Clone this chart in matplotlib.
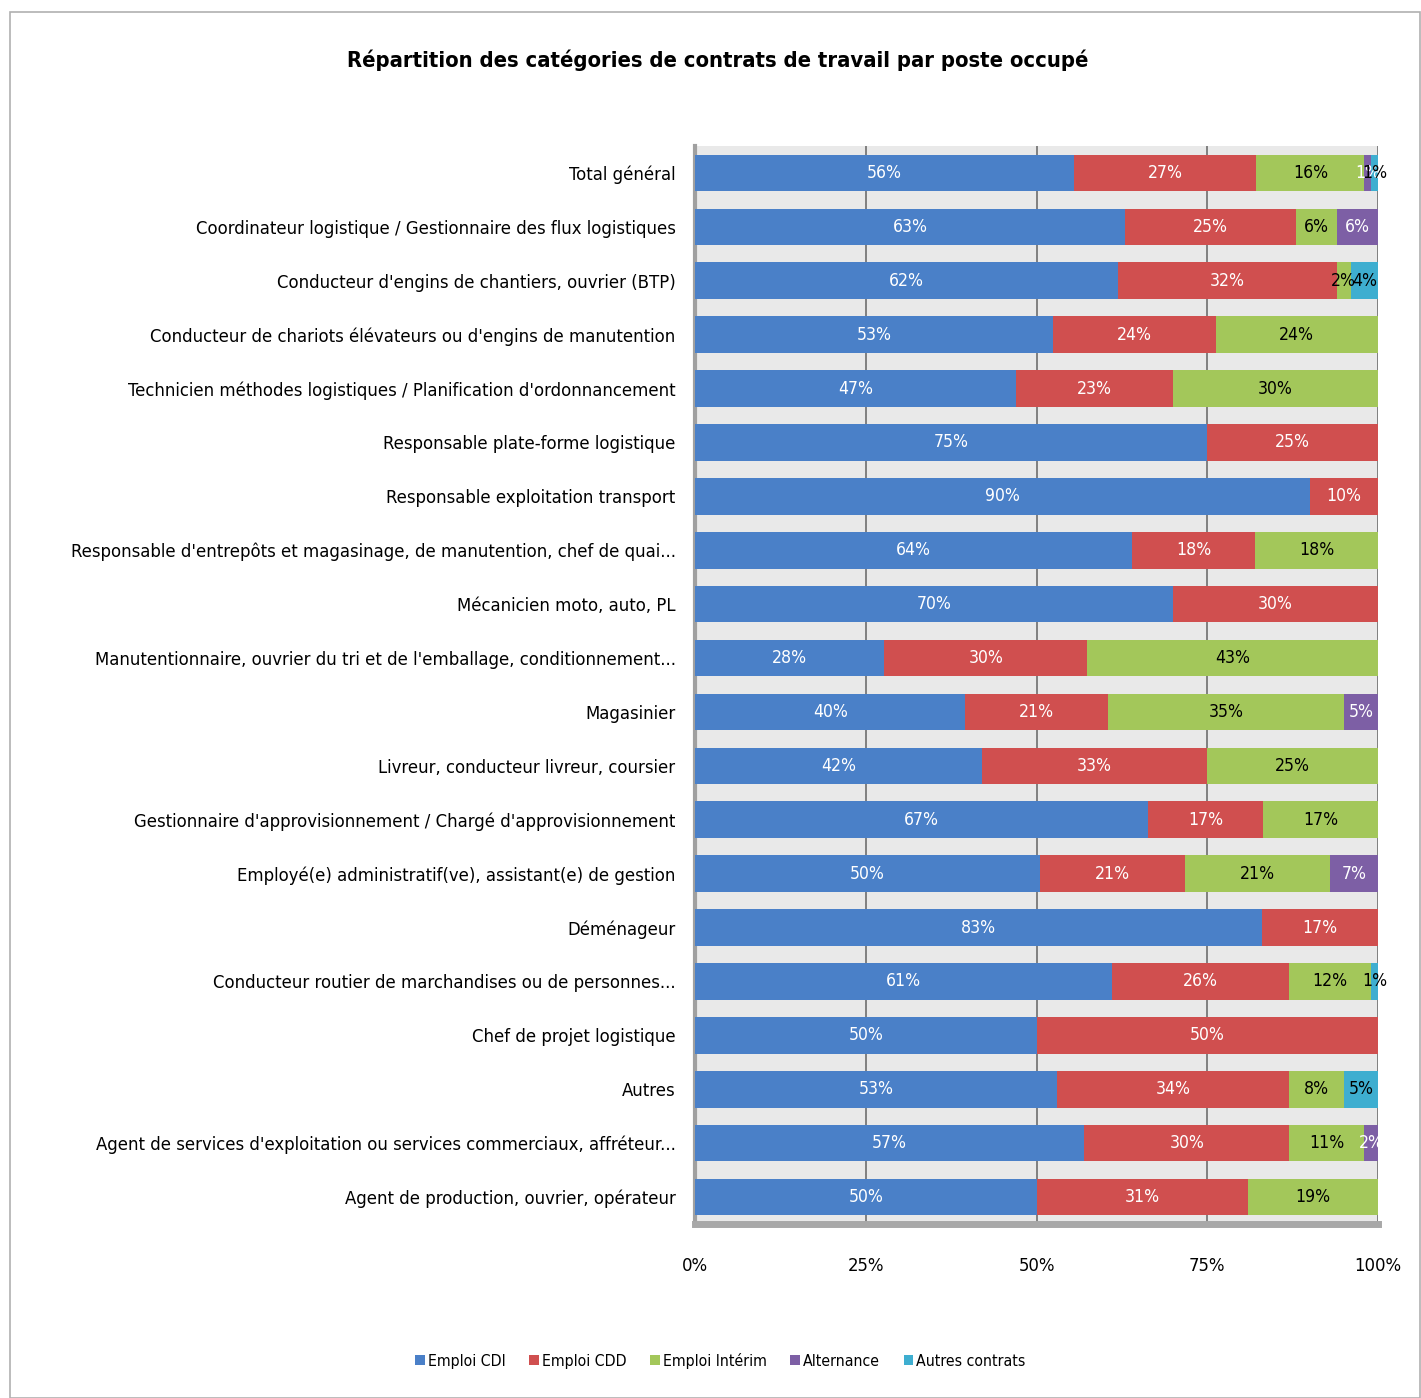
import matplotlib
matplotlib.use("Agg")
import matplotlib.pyplot as plt
from matplotlib.patches import Rectangle
from matplotlib import font_manager as fm
import numpy as np

categories = [
    "Total général",
    "Coordinateur logistique / Gestionnaire des flux logistiques",
    "Conducteur d'engins de chantiers, ouvrier (BTP)",
    "Conducteur de chariots élévateurs ou d'engins de manutention",
    "Technicien méthodes logistiques / Planification d'ordonnancement",
    "Responsable plate-forme logistique",
    "Responsable exploitation transport",
    "Responsable d'entrepôts et magasinage, de manutention, chef de quai...",
    "Mécanicien moto, auto, PL",
    "Manutentionnaire, ouvrier du tri et de l'emballage, conditionnement...",
    "Magasinier",
    "Livreur, conducteur livreur, coursier",
    "Gestionnaire d'approvisionnement / Chargé d'approvisionnement",
    "Employé(e) administratif(ve), assistant(e) de gestion",
    "Déménageur",
    "Conducteur routier de marchandises ou de personnes...",
    "Chef de projet logistique",
    "Autres",
    "Agent de services d'exploitation ou services commerciaux, affréteur...",
    "Agent de production, ouvrier, opérateur",
]

series_names = ["Emploi CDI", "Emploi CDD", "Emploi Intérim", "Alternance", "Autres contrats"]

cdi       = [56, 63, 62, 53, 47, 75, 90, 64, 70, 28, 40, 42, 67, 50, 83, 61, 50, 53, 57, 50]
cdd       = [27, 25, 32, 24, 23, 25, 10, 18, 30, 30, 21, 33, 17, 21, 17, 26, 50, 34, 30, 31]
interim   = [16,  6,  2, 24, 30,  0,  0, 18,  0, 43, 35, 25, 17, 21,  0, 12,  0,  8, 11, 19]
alternance= [ 1,  6,  0,  0,  0,  0,  0,  0,  0,  0,  5,  0,  0,  7,  0,  0,  0,  0,  2,  0]
autres    = [ 1,  0,  4,  0,  0,  0,  0,  0,  0,  0,  0,  0,  0,  0,  0,  1,  0,  5,  0,  0]

x_ticks = [0, 25, 50, 75, 100]
x_tick_labels = ["0%", "25%", "50%", "75%", "100%"]

title = "Répartition des catégories de contrats de travail par poste occupé"

colors = ["#4a80c8", "#d04f4f", "#a3c75a", "#7d5fa5", "#3eaed0"]
label_colors = ["white", "white", "black", "white", "black"]


def pick_font(weight="normal"):
    cands = [("Liberation Sans Narrow", "normal"), ("DejaVu Sans", "condensed"),
             ("Roboto Condensed", "normal"), ("Open Sans Condensed", "normal"),
             ("Noto Sans", "condensed"), ("Roboto", "condensed"),
             ("Open Sans", "condensed"), ("Noto Sans Display", "condensed")]
    for fam, st in cands:
        try:
            p = fm.findfont(fm.FontProperties(family=fam, stretch=st, weight=weight),
                            fallback_to_default=False)
        except Exception:
            continue
        low = p.lower()
        if "condensed" in low or "narrow" in low:
            return p
    for f in fm.fontManager.ttflist:
        low = f.fname.lower()
        if ("condensed" in low or "narrow" in low) and "mono" not in low and "serif" not in low.replace("sans", ""):
            if (weight == "bold") == ("bold" in low) and "italic" not in low and "oblique" not in low:
                return f.fname
    return None


reg_path = pick_font("normal")
bold_path = pick_font("bold")


def fp(size, bold=False):
    path = bold_path if bold else reg_path
    if path:
        return fm.FontProperties(fname=path, size=size)
    return fm.FontProperties(family="DejaVu Sans", size=size,
                             weight="bold" if bold else "normal")


fig = plt.figure(figsize=(14.21, 13.98), dpi=100)
renderer = fig.canvas.get_renderer()


def fit(text, target_px, bold=False, base=20.0):
    t = fig.text(0, 0, text, fontproperties=fp(base, bold))
    w = t.get_window_extent(renderer=renderer).width
    t.remove()
    return base * target_px / w


lab_size = min(fit(categories[7], 604), 18)
title_size = min(fit(title, 740, bold=True), 26)
val_size = min(fit("56%", 35), lab_size * 1.1)
leg_size = min(fit("Emploi CDI", 78), lab_size)

fig.patches.append(Rectangle((10 / 1421, 0), 1 - 10 / 1421 - 0.0005, 1 - 12 / 1398,
                             transform=fig.transFigure, fill=False,
                             edgecolor="#b0b0b0", linewidth=1.2))

ax = fig.add_axes([695 / 1421, 1 - 1224 / 1398, (1378 - 695) / 1421, (1224 - 146) / 1398])
ax.set_facecolor("#e9e9e9")

data = np.array([cdi, cdd, interim, alternance, autres], dtype=float)
totals = data.sum(axis=0)
frac = data / totals * 100

y = np.arange(len(categories))
left = np.zeros(len(categories))
for i, name in enumerate(series_names):
    ax.barh(y, frac[i], left=left, height=0.68, color=colors[i],
            edgecolor="none", label=name, zorder=3)
    for j in range(len(categories)):
        v = data[i, j]
        if v > 0:
            ax.text(left[j] + frac[i, j] / 2, y[j], f"{int(v)}%",
                    ha="center", va="center", fontproperties=fp(val_size),
                    color=label_colors[i], zorder=4)
    left += frac[i]

ax.set_xlim(0, 100)
ax.set_ylim(len(categories) - 0.5, -0.5)
ax.set_yticks(y)
ax.set_yticklabels(categories)
for t in ax.get_yticklabels():
    t.set_fontproperties(fp(lab_size))
ax.set_xticks(x_ticks)
ax.set_xticklabels(x_tick_labels)
for t in ax.get_xticklabels():
    t.set_fontproperties(fp(lab_size))
ax.tick_params(axis="both", length=0)
ax.tick_params(axis="y", pad=14)
ax.tick_params(axis="x", pad=24)
ax.grid(axis="x", color="#6e6e6e", linewidth=1.2, zorder=1)
for s in ["top", "right"]:
    ax.spines[s].set_visible(False)
ax.spines["left"].set_color("#a0a0a0")
ax.spines["left"].set_linewidth(3)
ax.spines["bottom"].set_color("#a8a8a8")
ax.spines["bottom"].set_linewidth(5)

fig.text(0.505, 1 - 60 / 1398, title,
         ha="center", va="center", fontproperties=fp(title_size, bold=True))

fig.legend(loc="center", bbox_to_anchor=(0.507, 1 - 1361 / 1398), ncol=5,
           frameon=False, prop=fp(leg_size), handlelength=0.6, handleheight=0.6,
           handletextpad=0.2, columnspacing=1.5)

fig.savefig("out.png", dpi=100)
